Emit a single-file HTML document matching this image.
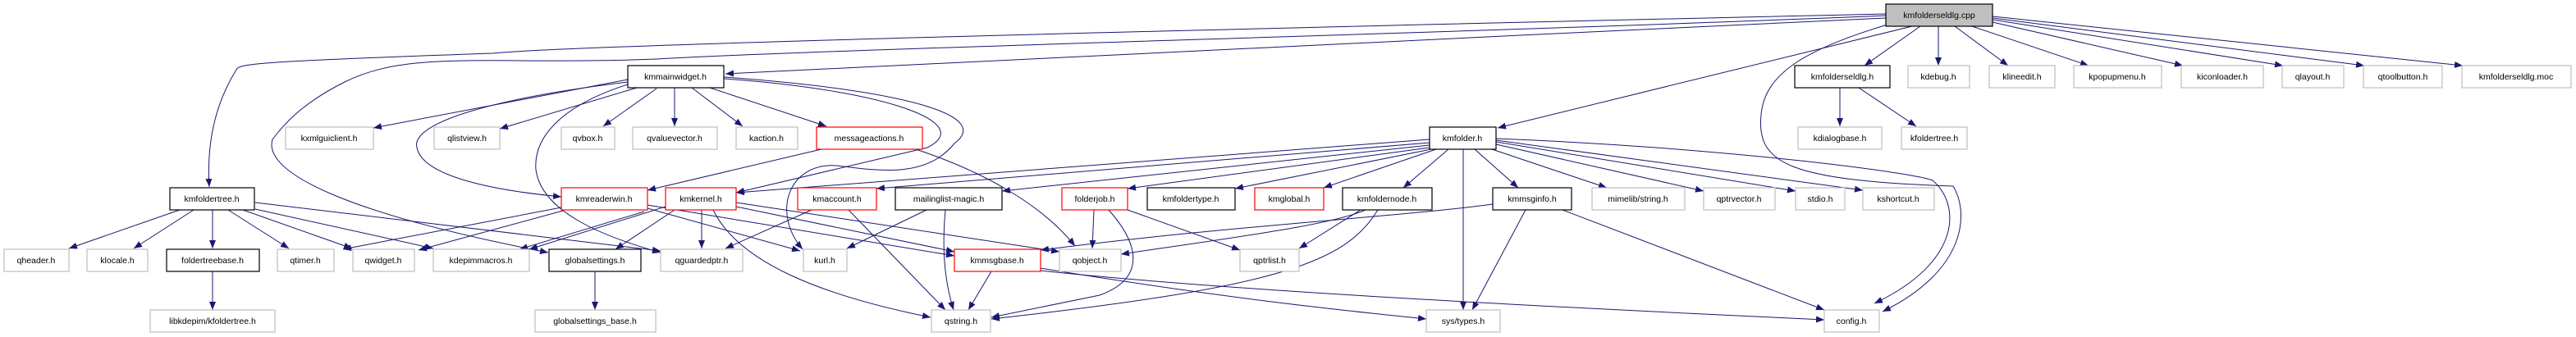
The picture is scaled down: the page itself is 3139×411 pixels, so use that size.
<!DOCTYPE html>
<html><head><meta charset="utf-8"><style>
html,body{margin:0;padding:0;background:#fff;}
svg{display:block;}
text{font-family:"Liberation Sans",sans-serif;font-size:10.5px;fill:#000;text-anchor:middle;dominant-baseline:central;}
.g{fill:#fff;stroke:#bfbfbf;stroke-width:1.2;}
.b{fill:#fff;stroke:#000;stroke-width:1.2;}
.r{fill:#fff;stroke:#ff0000;stroke-width:1.2;}
.e{fill:none;stroke:#191970;stroke-width:1;marker-end:url(#a);}
</style></head><body>
<svg width="3139" height="411" viewBox="0 0 3139 411" xmlns="http://www.w3.org/2000/svg">
<defs><marker id="a" markerUnits="userSpaceOnUse" markerWidth="11" markerHeight="8" refX="10" refY="4" orient="auto"><path d="M0,0 L10,4 L0,8 Z" fill="#191970"/></marker></defs>

<path class="e" d="M2298,17 C1500,35 700,55 600,65 C310,75 290,78 288,85 C260,130 252,180 255,228"/>
<path class="e" d="M2298,19 C1800,40 1000,60 800,72 C600,80 500,60 420,100 C360,130 340,160 332,170 C320,210 420,260 668,308"/>
<path class="e" d="M2298,22 C1800,45 1200,75 884,90"/>
<path class="e" d="M2330,32 L1825,156"/>
<path class="e" d="M2340,32 L2272,80"/>
<path class="e" d="M2362,32 L2362,80"/>
<path class="e" d="M2382,32 L2447,80"/>
<path class="e" d="M2400,31 L2545,80"/>
<path class="e" d="M2428,27 L2660,80"/>
<path class="e" d="M2428,24 L2782,80"/>
<path class="e" d="M2428,22 L2881,80"/>
<path class="e" d="M2428,20 L3001,80"/>
<path class="e" d="M2300,30 C2200,60 2150,90 2146,140 C2140,200 2180,220 2380,227 C2400,260 2396,330 2294,380"/>
<path class="e" d="M2242,107 L2242,154"/>
<path class="e" d="M2265,107 L2335,154"/>

<path class="e" d="M765,97 L455,156"/>
<path class="e" d="M776,107 L609,157"/>
<path class="e" d="M800,108 L735,154"/>
<path class="e" d="M822,107 L822,154"/>
<path class="e" d="M843,107 L905,154"/>
<path class="e" d="M865,107 L1007,154"/>
<path class="e" d="M765,100 C600,120 500,150 508,180 C515,215 600,232 684,240"/>
<path class="e" d="M765,103 C680,130 650,170 653,207 C660,260 740,290 805,308"/>
<path class="e" d="M882,96 C1080,110 1190,150 1130,180 L897,235"/>
<path class="e" d="M882,94 C1100,110 1210,140 1163,175 C1130,215 1080,210 1020,202 C960,198 940,260 978,304"/>

<path class="e" d="M1001,182 L789,232"/>
<path class="e" d="M1116,182 C1200,210 1270,250 1310,300"/>

<path class="e" d="M219,256 L84,303"/>
<path class="e" d="M236,256 L163,303"/>
<path class="e" d="M259,256 L259,303"/>
<path class="e" d="M278,256 L352,303"/>
<path class="e" d="M296,256 L429,303"/>
<path class="e" d="M311,255 L528,303"/>
<path class="e" d="M311,247 L805,306"/>
<path class="e" d="M259,331 L259,378"/>
<path class="e" d="M725,331 L725,378"/>

<path class="e" d="M684,253 L418,304"/>
<path class="e" d="M686,257 L510,305"/>
<path class="e" d="M785,258 L633,304"/>
<path class="e" d="M789,254 L975,306"/>
<path class="e" d="M789,250 L1163,312"/>

<path class="e" d="M822,256 L750,304"/>
<path class="e" d="M811,252 L645,304"/>
<path class="e" d="M855,256 L855,303"/>
<path class="e" d="M897,252 L1163,307"/>
<path class="e" d="M897,247 L1291,307"/>
<path class="e" d="M869,256 C900,320 1000,360 1134,387"/>
<path class="e" d="M989,256 L884,303"/>
<path class="e" d="M1034,256 L1152,378"/>
<path class="e" d="M1129,256 L1032,303"/>
<path class="e" d="M1152,256 C1148,300 1150,340 1162,378"/>
<path class="e" d="M1208,331 L1180,378"/>
<path class="e" d="M1333,256 L1331,303"/>
<path class="e" d="M1351,256 C1390,300 1395,340 1340,360 L1208,387"/>
<path class="e" d="M1374,256 L1511,305"/>

<path class="e" d="M1742,170 L897,235"/>
<path class="e" d="M1742,174 L1068,230"/>
<path class="e" d="M1742,177 L1221,233"/>
<path class="e" d="M1742,180 L1374,230"/>
<path class="e" d="M1744,182 L1505,230"/>
<path class="e" d="M1750,182 L1613,229"/>
<path class="e" d="M1765,182 L1710,229"/>
<path class="e" d="M1783,182 L1783,378"/>
<path class="e" d="M1797,182 L1850,229"/>
<path class="e" d="M1818,182 L1958,229"/>
<path class="e" d="M1823,176 L2076,233"/>
<path class="e" d="M1823,173 L2188,233"/>
<path class="e" d="M1823,171 L2270,232"/>
<path class="e" d="M1823,169 C2100,180 2330,210 2355,220 C2390,250 2390,320 2284,370"/>

<path class="e" d="M1664,256 C1620,275 1500,290 1366,310"/>
<path class="e" d="M1658,256 L1583,303"/>
<path class="e" d="M1679,256 C1640,320 1560,350 1208,389"/>
<path class="e" d="M1819,249 C1700,265 1500,275 1268,305"/>
<path class="e" d="M1859,256 L1794,378"/>
<path class="e" d="M1904,256 L2223,378"/>
<path class="e" d="M1268,330 C1500,355 1900,375 2223,390"/>
<path class="e" d="M1268,327 C1500,365 1650,380 1738,389"/>

<rect x="2298" y="5" width="130" height="27" fill="#bfbfbf" stroke="#000" stroke-width="1.2"/><text x="2363" y="19">kmfolderseldlg.cpp</text>

<rect class="b" x="765" y="80" width="117" height="27"/><text x="823" y="94">kmmainwidget.h</text>
<rect class="b" x="2187" y="80" width="116" height="27"/><text x="2245" y="94">kmfolderseldlg.h</text>
<rect class="g" x="2325" y="80" width="75" height="27"/><text x="2362" y="94">kdebug.h</text>
<rect class="g" x="2424" y="80" width="80" height="27"/><text x="2464" y="94">klineedit.h</text>
<rect class="g" x="2527" y="80" width="107" height="27"/><text x="2580" y="94">kpopupmenu.h</text>
<rect class="g" x="2658" y="80" width="100" height="27"/><text x="2708" y="94">kiconloader.h</text>
<rect class="g" x="2781" y="80" width="75" height="27"/><text x="2818" y="94">qlayout.h</text>
<rect class="g" x="2880" y="80" width="96" height="27"/><text x="2928" y="94">qtoolbutton.h</text>
<rect class="g" x="3000" y="80" width="133" height="27"/><text x="3066" y="94">kmfolderseldlg.moc</text>

<rect class="g" x="348" y="155" width="107" height="27"/><text x="401" y="169">kxmlguiclient.h</text>
<rect class="g" x="529" y="155" width="80" height="27"/><text x="569" y="169">qlistview.h</text>
<rect class="g" x="684" y="155" width="65" height="27"/><text x="716" y="169">qvbox.h</text>
<rect class="g" x="771" y="155" width="103" height="27"/><text x="822" y="169">qvaluevector.h</text>
<rect class="g" x="897" y="155" width="75" height="27"/><text x="934" y="169">kaction.h</text>
<rect class="r" x="995" y="155" width="129" height="27"/><text x="1059" y="169">messageactions.h</text>
<rect class="b" x="1742" y="155" width="81" height="27"/><text x="1782" y="169">kmfolder.h</text>
<rect class="g" x="2191" y="155" width="102" height="27"/><text x="2242" y="169">kdialogbase.h</text>
<rect class="g" x="2317" y="155" width="80" height="27"/><text x="2357" y="169">kfoldertree.h</text>

<rect class="b" x="207" y="229" width="103" height="27"/><text x="258" y="243">kmfoldertree.h</text>
<rect class="r" x="684" y="229" width="105" height="27"/><text x="736" y="243">kmreaderwin.h</text>
<rect class="r" x="811" y="229" width="86" height="27"/><text x="854" y="243">kmkernel.h</text>
<rect class="r" x="972" y="229" width="96" height="27"/><text x="1020" y="243">kmaccount.h</text>
<rect class="b" x="1091" y="229" width="130" height="27"/><text x="1156" y="243">mailinglist-magic.h</text>
<rect class="r" x="1294" y="229" width="80" height="27"/><text x="1334" y="243">folderjob.h</text>
<rect class="b" x="1398" y="229" width="107" height="27"/><text x="1451" y="243">kmfoldertype.h</text>
<rect class="r" x="1529" y="229" width="84" height="27"/><text x="1571" y="243">kmglobal.h</text>
<rect class="b" x="1636" y="229" width="109" height="27"/><text x="1690" y="243">kmfoldernode.h</text>
<rect class="b" x="1819" y="229" width="96" height="27"/><text x="1867" y="243">kmmsginfo.h</text>
<rect class="g" x="1940" y="229" width="113" height="27"/><text x="1996" y="243">mimelib/string.h</text>
<rect class="g" x="2076" y="229" width="87" height="27"/><text x="2119" y="243">qptrvector.h</text>
<rect class="g" x="2188" y="229" width="60" height="27"/><text x="2218" y="243">stdio.h</text>
<rect class="g" x="2270" y="229" width="87" height="27"/><text x="2313" y="243">kshortcut.h</text>

<rect class="g" x="5" y="304" width="79" height="27"/><text x="44" y="318">qheader.h</text>
<rect class="g" x="106" y="304" width="74" height="27"/><text x="143" y="318">klocale.h</text>
<rect class="b" x="203" y="304" width="113" height="27"/><text x="259" y="318">foldertreebase.h</text>
<rect class="g" x="338" y="304" width="69" height="27"/><text x="372" y="318">qtimer.h</text>
<rect class="g" x="430" y="304" width="75" height="27"/><text x="467" y="318">qwidget.h</text>
<rect class="g" x="528" y="304" width="117" height="27"/><text x="586" y="318">kdepimmacros.h</text>
<rect class="b" x="669" y="304" width="112" height="27"/><text x="725" y="318">globalsettings.h</text>
<rect class="g" x="805" y="304" width="100" height="27"/><text x="855" y="318">qguardedptr.h</text>
<rect class="g" x="979" y="304" width="53" height="27"/><text x="1005" y="318">kurl.h</text>
<rect class="r" x="1163" y="304" width="105" height="27"/><text x="1215" y="318">kmmsgbase.h</text>
<rect class="g" x="1291" y="304" width="75" height="27"/><text x="1328" y="318">qobject.h</text>
<rect class="g" x="1511" y="304" width="72" height="27"/><text x="1547" y="318">qptrlist.h</text>

<rect class="g" x="183" y="378" width="152" height="27"/><text x="259" y="392">libkdepim/kfoldertree.h</text>
<rect class="g" x="652" y="378" width="147" height="27"/><text x="725" y="392">globalsettings_base.h</text>
<rect class="g" x="1135" y="378" width="72" height="27"/><text x="1171" y="392">qstring.h</text>
<rect class="g" x="1738" y="378" width="90" height="27"/><text x="1783" y="392">sys/types.h</text>
<rect class="g" x="2223" y="378" width="67" height="27"/><text x="2256" y="392">config.h</text>
</svg>
</body></html>
